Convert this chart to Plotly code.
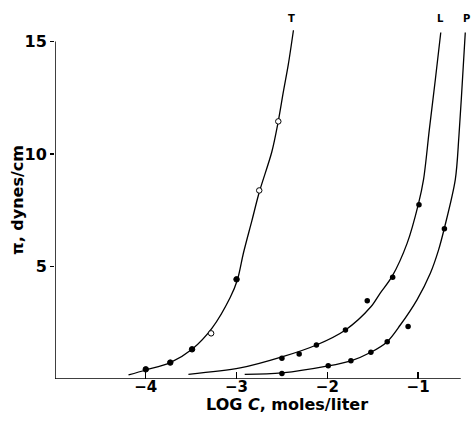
import plotly.graph_objects as go

# ---- data ----
# measured points
t_x = [-4.00, -3.73, -3.49, -3.28, -3.00, -2.75, -2.54]
t_y = [0.43, 0.73, 1.32, 2.03, 4.43, 8.38, 11.45]
t_open = [False, False, False, True, False, True, True]

l_x = [-2.50, -2.31, -2.12, -1.80, -1.56, -1.28, -0.99]
l_y = [0.92, 1.11, 1.51, 2.18, 3.48, 4.52, 7.74]

p_x = [-2.50, -1.99, -1.74, -1.52, -1.34, -1.11, -0.71]
p_y = [0.25, 0.59, 0.81, 1.19, 1.66, 2.33, 6.68]

# drawn curves
t_cx = [-4.19, -4.00, -3.73, -3.49, -3.27, -3.07, -2.99, -2.924, -2.83, -2.75,
        -2.611, -2.545, -2.483, -2.43, -2.373]
t_cy = [0.18, 0.40, 0.73, 1.32, 2.26, 3.62, 4.41, 5.60, 7.05, 8.30,
        10.10, 11.35, 12.79, 13.97, 15.50]

l_cx = [-3.53, -2.96, -2.50, -2.12, -1.80, -1.52, -1.417, -1.288, -1.12, -0.994, -0.94,
        -0.876, -0.81, -0.75]
l_cy = [0.21, 0.49, 0.98, 1.51, 2.18, 3.21, 3.82, 4.55, 6.04, 7.82, 8.86,
        11.08, 13.30, 15.40]

p_cx = [-2.91, -2.50, -1.99, -1.74, -1.52, -1.34, -1.196, -1.012, -0.865, -0.774, -0.71,
        -0.59, -0.55, -0.524, -0.48]
p_cy = [0.21, 0.27, 0.58, 0.81, 1.19, 1.66, 2.40, 3.52, 4.70, 5.74, 6.71,
        8.86, 10.80, 12.42, 15.40]

curve_labels = ["T", "L", "P"]
label_x = [-2.40, -0.75, -0.47]

x_ticks = [-4, -3, -2, -1]
x_ticktext = ["−4", "−3", "−2", "−1"]
y_ticks = [5, 10, 15]

X_MIN, X_MAX = -5, -0.45
Y_MIN, Y_MAX = 0, 15.6

FONT = "DejaVu Sans, Liberation Sans, sans-serif"

fig = go.Figure()
for cx, cy in [(t_cx, t_cy), (l_cx, l_cy), (p_cx, p_cy)]:
    fig.add_trace(go.Scatter(x=cx, y=cy, mode="lines",
                             line=dict(color="black", width=1.3, shape="spline", smoothing=0.9),
                             hoverinfo="skip"))

fig.add_trace(go.Scatter(
    x=t_x, y=t_y, mode="markers",
    marker=dict(size=5.5, color=["white" if o else "black" for o in t_open],
                symbol="circle", line=dict(color="black", width=1))))
fig.add_trace(go.Scatter(x=l_x, y=l_y, mode="markers", marker=dict(size=5.5, color="black")))
fig.add_trace(go.Scatter(x=p_x, y=p_y, mode="markers", marker=dict(size=5.5, color="black")))

# axis lines
fig.add_shape(type="line", x0=X_MIN, x1=-0.53, y0=0, y1=0, line=dict(color="black", width=1.5))
fig.add_shape(type="line", x0=X_MIN, x1=X_MIN, y0=0, y1=15, line=dict(color="black", width=1.5))

for lab, lx in zip(curve_labels, label_x):
    fig.add_annotation(x=(lx - X_MIN) / (X_MAX - X_MIN), xref="paper", y=1.028, yref="paper",
                       text="<b>%s</b>" % lab, showarrow=False,
                       xanchor="center", yanchor="middle",
                       font=dict(family=FONT, size=10, color="black"))

fig.add_annotation(xref="paper", yref="paper", x=(287 - 55) / 413, y=-25 / 351,
                   text="<b>LOG <i>C</i>, moles/liter</b>", showarrow=False,
                   xanchor="center", yanchor="middle",
                   font=dict(family=FONT, size=16, color="black"))
fig.add_annotation(xref="paper", yref="paper", x=-(55 - 17) / 413, y=(379 - 200) / 351,
                   text="<b>π, dynes/cm</b>", showarrow=False, textangle=-90,
                   xanchor="center", yanchor="middle",
                   font=dict(family=FONT, size=16, color="black"))

fig.update_layout(
    width=471, height=423,
    margin=dict(l=55, r=3, t=28, b=44),
    paper_bgcolor="white", plot_bgcolor="white",
    showlegend=False,
    hovermode=False,
    xaxis=dict(range=[X_MIN, X_MAX], tickvals=x_ticks, ticktext=x_ticktext,
               ticks="inside", ticklen=7, tickcolor="black", tickwidth=1.2,
               ticklabelstandoff=-3,
               showgrid=False, zeroline=False, showline=False,
               tickfont=dict(family=FONT, size=15, color="black", weight="bold")),
    yaxis=dict(range=[Y_MIN, Y_MAX], tickvals=y_ticks,
               ticks="outside", ticklen=4, tickcolor="black", tickwidth=1.2,
               showgrid=False, zeroline=False, showline=False,
               tickfont=dict(family=FONT, size=16, color="black", weight="bold")),
)

# remove the default page margin so the figure fills the window exactly
fig.write_html("out.html",
               config={"displayModeBar": False, "staticPlot": True},
               post_script="document.body.style.margin='0';document.body.style.overflow='hidden';")
